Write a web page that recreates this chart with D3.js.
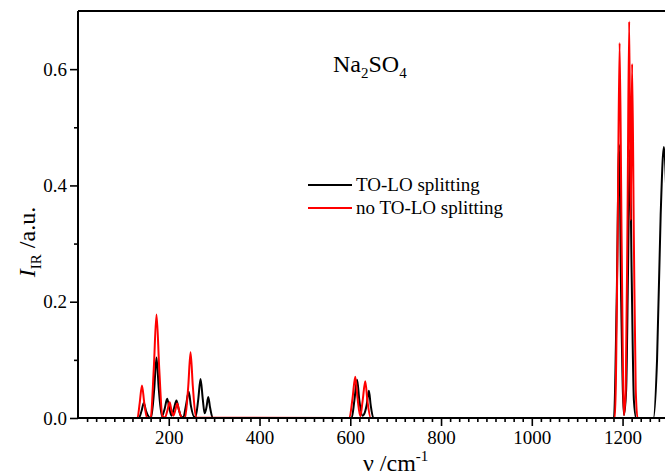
<!DOCTYPE html>
<html>
<head>
<meta charset="utf-8">
<script src="https://cdn.jsdelivr.net/npm/d3@7"></script>
<style>
  html, body { margin: 0; padding: 0; background: #fff; }
  svg { display: block; }
</style>
</head>
<body>
<svg id="chart" width="665" height="475"></svg>
<script>
// ---------- data ----------
const xMajorTicks = [200, 400, 600, 800, 1000, 1200];
const yMajorTicks = [0.0, 0.2, 0.4, 0.6];
const yMinorTicks = [0.1, 0.3, 0.5];
const seriesNames = ["TO-LO splitting", "no TO-LO splitting"];
const seriesColors = ["#000000", "#ff0000"];

// wavenumber (cm-1), intensity (a.u.)
const toloWavenumber = [0, 134, 140, 145, 150, 156, 161, 168, 173, 178, 185, 191, 196.5, 201, 206, 211, 217, 222, 228,
  232, 238, 244, 249, 256, 259, 265, 270, 275, 279, 283, 287, 291, 297,
  603, 609, 615, 620, 627, 630, 636, 641, 645, 651,
  1181, 1187, 1192.5, 1197, 1203, 1208, 1212, 1216, 1220, 1225, 1230,
  1268, 1276, 1284, 1291, 1298, 1306, 1314, 1400];
const toloIntensity = [0, 0, 0.012, 0.026, 0.012, 0.002, 0, 0.05, 0.104, 0.05, 0.003, 0.016, 0.033, 0.018, 0.004, 0.015, 0.030, 0.015, 0.002,
  0.001, 0.022, 0.045, 0.02, 0.002, 0.002, 0.032, 0.067, 0.032, 0.008, 0.018, 0.036, 0.018, 0,
  0, 0.03, 0.066, 0.03, 0.004, 0.006, 0.022, 0.047, 0.022, 0,
  0, 0.2, 0.47, 0.2, 0.005, 0.05, 0.25, 0.462, 0.25, 0.03, 0,
  0, 0.1, 0.35, 0.466, 0.35, 0.1, 0, 0];

const noToloWavenumber = [0, 131, 136, 141, 146, 152, 160, 167, 173, 179, 186, 192, 197, 202, 206, 210, 214, 218.6, 223, 229,
  236, 243, 248, 253, 260,
  598, 605, 611, 616, 622, 627, 633, 638, 645,
  1183, 1189, 1193.5, 1198, 1203, 1207, 1211, 1214.6, 1218, 1221, 1225, 1229, 1233, 1400];
const noToloIntensity = [0, 0, 0.026, 0.056, 0.026, 0.001, 0, 0.085, 0.178, 0.085, 0.003, 0.001, 0.013, 0.027, 0.013, 0.004, 0.012, 0.025, 0.012, 0,
  0, 0.055, 0.113, 0.055, 0.001,
  0, 0.034, 0.071, 0.034, 0.003, 0.028, 0.063, 0.028, 0,
  0, 0.3, 0.645, 0.3, 0.005, 0.05, 0.35, 0.682, 0.34, 0.609, 0.3, 0.05, 0, 0];

// ---------- layout ----------
const FONT = '"Liberation Serif", Tinos, "Times New Roman", Times, serif';
const svg = d3.select("#chart").style("font-family", FONT);
const mLeft = 78, mTop = 11, mBottom = 418;
const x = d3.scaleLinear().domain([0, 1400]).range([mLeft, mLeft + 1400 * 0.4538]);
const y = d3.scaleLinear().domain([0, 0.7]).range([mBottom, mTop]);
const plotRight = x(1400);

svg.append("clipPath").attr("id", "clip")
  .append("rect").attr("x", mLeft).attr("y", mTop).attr("width", plotRight - mLeft).attr("height", mBottom - mTop);

// curves
const series = [
  { name: seriesNames[0], color: seriesColors[0], pts: toloWavenumber.map((v, i) => [v, toloIntensity[i]]) },
  { name: seriesNames[1], color: seriesColors[1], pts: noToloWavenumber.map((v, i) => [v, noToloIntensity[i]]) }
];
const line = d3.line().x(d => x(d[0])).y(d => y(d[1])).curve(d3.curveMonotoneX);
const g = svg.append("g").attr("clip-path", "url(#clip)");
series.forEach(s => {
  g.append("path").datum(s.pts).attr("d", line)
    .attr("fill", "none").attr("stroke", s.color).attr("stroke-width", 2).attr("stroke-linejoin", "round");
});

// axes
const xMinor = d3.range(20, 1400, 20).filter(v => !xMajorTicks.includes(v));
const xAxisMajor = d3.axisBottom(x).tickValues(xMajorTicks).tickSize(8).tickPadding(5).tickFormat(d3.format("d"));
const xAxisMinor = d3.axisBottom(x).tickValues(xMinor).tickSize(4).tickFormat("");
const yAxisMajor = d3.axisLeft(y).tickValues(yMajorTicks).tickSize(8).tickPadding(3).tickFormat(d3.format(".1f"));
const yAxisMinor = d3.axisLeft(y).tickValues(yMinorTicks).tickSize(4).tickFormat("");

function styleAxis(sel) {
  sel.attr("font-family", null).attr("font-size", null);
  sel.select(".domain").remove();
  sel.selectAll("line").attr("stroke", "#000").attr("stroke-width", 1.6);
  sel.selectAll("text").attr("font-family", FONT).attr("font-size", 19).attr("fill", "#000");
}
svg.append("g").attr("transform", `translate(0,${mBottom})`).call(xAxisMinor).call(styleAxis);
svg.append("g").attr("transform", `translate(0,${mBottom})`).call(xAxisMajor).call(styleAxis);
svg.append("g").attr("transform", `translate(${mLeft},0)`).call(yAxisMinor).call(styleAxis);
svg.append("g").attr("transform", `translate(${mLeft},0)`).call(yAxisMajor).call(styleAxis);

// frame
svg.append("line").attr("x1", mLeft).attr("x2", plotRight).attr("y1", mBottom).attr("y2", mBottom).attr("stroke", "#000").attr("stroke-width", 2);
svg.append("line").attr("x1", mLeft).attr("x2", plotRight).attr("y1", mTop).attr("y2", mTop).attr("stroke", "#000").attr("stroke-width", 2);
svg.append("line").attr("x1", mLeft).attr("x2", mLeft).attr("y1", mTop).attr("y2", mBottom).attr("stroke", "#000").attr("stroke-width", 2);

// x title
const xt = svg.append("text").attr("x", (mLeft + plotRight) / 2).attr("y", 471).attr("text-anchor", "middle")
  .attr("font-family", FONT).attr("font-size", 24);
xt.append("tspan").text("ν /cm");
xt.append("tspan").attr("dy", -10).attr("font-size", 15).text("-1");

// y title
const yt = svg.append("text").attr("transform", "translate(35,242) rotate(-90)").attr("text-anchor", "middle")
  .attr("font-family", FONT).attr("font-size", 24);
yt.append("tspan").attr("font-style", "italic").text("I");
yt.append("tspan").attr("dy", 6).attr("font-size", 15).text("IR");
yt.append("tspan").attr("dy", -6).text(" /a.u.");

// compound label
const lab = svg.append("text").attr("x", 333).attr("y", 72).attr("font-family", FONT).attr("font-size", 24);
lab.append("tspan").text("Na");
lab.append("tspan").attr("dy", 6).attr("font-size", 15).text("2");
lab.append("tspan").attr("dy", -6).text("SO");
lab.append("tspan").attr("dy", 6).attr("font-size", 15).text("4");

// legend
series.forEach((s, i) => {
  const ly = 185 + i * 23;
  svg.append("line").attr("x1", 308).attr("x2", 352).attr("y1", ly).attr("y2", ly).attr("stroke", s.color).attr("stroke-width", 2);
  svg.append("text").attr("x", 356).attr("y", ly + 6).attr("font-family", FONT).attr("font-size", 19).text(s.name);
});
</script>
</body>
</html>
